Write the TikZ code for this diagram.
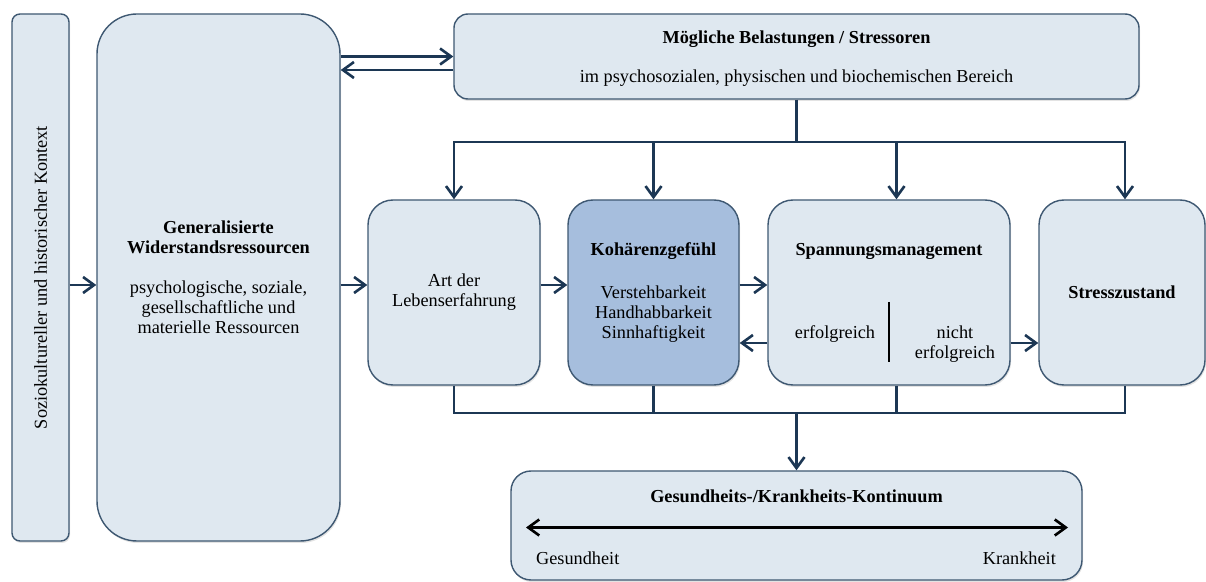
\documentclass[tikz,border=0pt]{standalone}
\usepackage{fontspec}
\setmainfont{Liberation Serif}
\usepackage{tikz}
\usetikzlibrary{arrows.meta, positioning, calc, shadows}
\definecolor{boxfill}{RGB}{223,232,240}
\definecolor{keyfill}{RGB}{166,190,221}
\definecolor{boxline}{RGB}{62,88,114}
\definecolor{arrowdark}{RGB}{28,55,84}
\newcommand{\boxfont}{\fontsize{10.4}{11.4}\selectfont}
\tikzset{
  block/.style={rectangle, draw=boxline, fill=boxfill, inner sep=0pt,
    align=center, font=\boxfont, rounded corners=0.5cm, line width=0.8pt,
    drop shadow={shadow xshift=0.02cm, shadow yshift=-0.04cm, opacity=0.22}},
  keyblock/.style={block, fill=keyfill},
  txt/.style={font=\boxfont, align=center, inner sep=1pt},
  arrow/.style={-{Straight Barb[length=2.2mm, width=3.2mm]}, line width=1.5pt, color=arrowdark},
  line/.style={line width=1.5pt, color=arrowdark},
  divider/.style={line width=1.1pt, color=black}
}

\begin{document}
\begin{tikzpicture}
  \useasboundingbox (0,0) rectangle (24.12,-11.64);

  % Context and resources
  \node[block, rounded corners=0.16cm, minimum width=1.14cm, minimum height=10.54cm] (ctx) at (0.81,-5.55) {};
  \node[txt, rotate=90] (ctxtext) at (ctx.center) {Soziokultureller und historischer Kontext};
  \node[block, rounded corners=0.8cm, minimum width=4.86cm, minimum height=10.54cm] (gwr) at (4.37,-5.55)
    {\textbf{Generalisierte}\\\textbf{Widerstandsressourcen}\\[0.4cm]psychologische, soziale,\\gesellschaftliche und\\materielle Ressourcen};

  % Stressors
  \node[block, rounded corners=0.28cm, minimum width=13.7cm, minimum height=1.7cm] (bel) at (15.93,-1.13) {};
  \node[txt, font=\boxfont\bfseries] (beltitle) at (15.93,-0.78) {Mögliche Belastungen / Stressoren};
  \node[txt] (belsub) at (15.93,-1.56) {im psychosozialen, physischen und biochemischen Bereich};

  % Middle row
  \node[block, minimum width=3.44cm, minimum height=3.7cm] (art) at (9.08,-5.85) {Art der\\Lebenserfahrung};
  \node[keyblock, minimum width=3.42cm, minimum height=3.7cm] (koh) at (13.07,-5.85)
    {\textbf{Kohärenzgefühl}\\[0.46cm]Verstehbarkeit\\Handhabbarkeit\\Sinnhaftigkeit};
  \node[block, minimum width=4.84cm, minimum height=3.7cm] (span) at (17.78,-5.85) {};
  \node[txt, font=\boxfont\bfseries] (spantitle) at (17.78,-5.03) {Spannungsmanagement};
  \node[txt] (erfolg) at (16.70,-6.68) {erfolgreich};
  \node[txt] (nerfolg) at (19.10,-6.88) {nicht\\erfolgreich};
  \draw[divider] ([yshift=-0.19cm]span.center) -- ([yshift=-1.39cm]span.center);
  \node[block, minimum width=3.32cm, minimum height=3.7cm] (stress) at (22.44,-5.85) {\textbf{Stresszustand}};

  % Continuum
  \node[block, rounded corners=0.4cm, minimum width=11.42cm, minimum height=2.18cm] (kont) at (15.93,-10.51) {};
  \node[txt, font=\boxfont\bfseries] (konttitle) at (15.93,-9.92) {Gesundheits-/Krankheits-Kontinuum};
  \coordinate (gesund) at (10.52,-10.55);
  \coordinate (krank) at (21.36,-10.55);
  \draw[{Straight Barb[length=2.2mm, width=3.2mm]}-{Straight Barb[length=2.2mm, width=3.2mm]}, line width=1.5pt] (gesund) -- (krank);
  \node[txt, anchor=west] (gesundtext) at (10.68,-11.16) {Gesundheit};
  \node[txt, anchor=east] (kranktext) at (21.16,-11.16) {Krankheit};

  % Rows of the connectors
  \coordinate (row1) at (0,-5.70);
  \coordinate (row2) at (0,-6.86);
  \coordinate (busTop) at (0,-2.84);
  \coordinate (busBot) at (0,-8.26);
  \coordinate (belback) at ([yshift=-0.27cm]bel.west);

  % Horizontal arrows
  \draw[arrow] (gwr.east |- bel.west) -- (bel.west);
  \draw[arrow] (belback) -- (gwr.east |- belback);
  \draw[arrow] (ctx.east |- row1) -- (gwr.west |- row1);
  \draw[arrow] (gwr.east |- row1) -- (art.west |- row1);
  \draw[arrow] (art.east |- row1) -- (koh.west |- row1);
  \draw[arrow] (koh.east |- row1) -- (span.west |- row1);
  \draw[arrow] (span.west |- row2) -- (koh.east |- row2);
  \draw[arrow] (span.east |- row2) -- (stress.west |- row2);

  % Distribution bus and collection bus
  \draw[line] (bel.south) -- (bel.south |- busTop);
  \draw[line, line cap=rect] (art.north |- busTop) -- ([xshift=0.06cm]stress.north |- busTop);
  \draw[line, line cap=rect] (art.south |- busBot) -- ([xshift=0.06cm]stress.south |- busBot);
  \foreach \n/\dx in {art/0, koh/0, span/0.15, stress/0.06} {
    \draw[arrow] ([xshift=\dx cm]\n.north |- busTop) -- ([xshift=\dx cm]\n.north);
    \draw[line] ([xshift=\dx cm]\n.south) -- ([xshift=\dx cm]\n.south |- busBot);
  }
  \draw[arrow] (kont.north |- busBot) -- (kont.north);
\end{tikzpicture}
\end{document}
